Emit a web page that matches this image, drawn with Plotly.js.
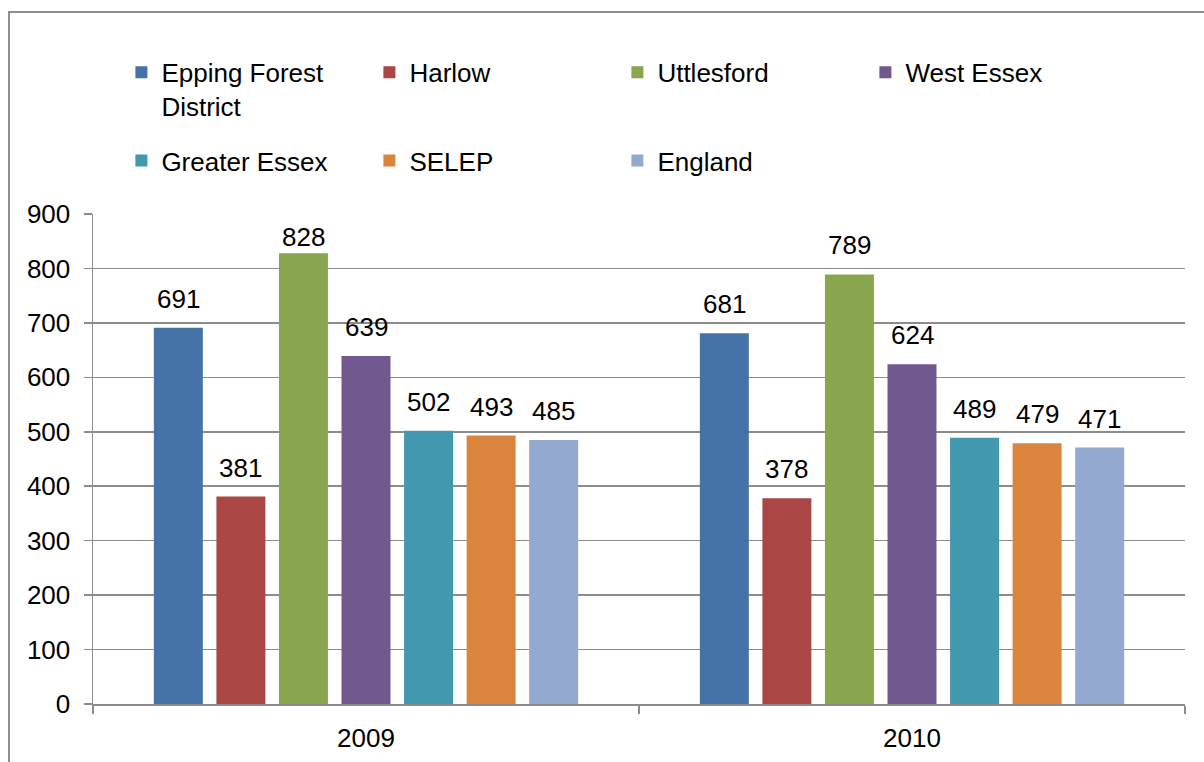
<!DOCTYPE html>
<html>
<head>
<meta charset="utf-8">
<script src="https://cdn.plot.ly/plotly-3.0.1.min.js"></script>
<style>
  html, body { margin: 0; padding: 0; background: #ffffff; overflow: hidden; }
  #frame { position: absolute; left: 8px; top: 11px; width: 1400px; height: 1000px; border: 2px solid #8e8e8e; box-sizing: border-box; }
  #chart { position: absolute; left: 0; top: 0; width: 1204px; height: 762px; }
</style>
</head>
<body>
<div id="frame"></div>
<div id="chart"></div>
<script>
const years = ['2009', '2010'];
const seriesNames = ['Epping Forest<br>District', 'Harlow', 'Uttlesford', 'West Essex', 'Greater Essex', 'SELEP', 'England'];
const eppingForest = [691, 681];
const harlow = [381, 378];
const uttlesford = [828, 789];
const westEssex = [639, 624];
const greaterEssex = [502, 489];
const selep = [493, 479];
const england = [485, 471];
const colors = ['#4572A7', '#AA4643', '#89A54E', '#71588F', '#4198AF', '#DB843D', '#93A9CF'];

const allValues = [eppingForest, harlow, uttlesford, westEssex, greaterEssex, selep, england];
const FONT = 'Liberation Sans, Arial, sans-serif';
const FS = 26;

const W = 1204, H = 762;
const margin = { l: 93, r: 19, t: 214, b: 58, pad: 0 };
const yMax = 900;
const bargap = 0.198, bargroupgap = 0.217;
const plotW = W - margin.l - margin.r;
const plotH = H - margin.t - margin.b;
const nSeries = allValues.length;
const slot = plotW / years.length * (1 - bargap) / nSeries;

// Data labels sit above bars; like Excel, keep them inside the plot area
const LABEL_GAP = 12;      // normal lift above the bar top (px)
const LABEL_CLEAR = 40;    // room the label needs below the plot top (px)
function labelShift(v) {
  const distFromTop = plotH * (1 - v / yMax);
  return Math.min(LABEL_GAP, distFromTop - LABEL_CLEAR);
}

const traces = allValues.map((vals, i) => ({
  type: 'bar',
  name: seriesNames[i],
  x: years,
  y: vals,
  legend: i < 4 ? 'legend' : 'legend2',
  marker: { color: colors[i], line: { width: 0 } },
  hoverinfo: 'x+y+name'
}));

const annotations = [];
allValues.forEach((vals, i) => {
  vals.forEach((v, j) => {
    annotations.push({
      x: j, y: v, xref: 'x', yref: 'y',
      text: String(v), showarrow: false,
      xanchor: 'center', yanchor: 'bottom',
      xshift: (i - (nSeries - 1) / 2) * slot,
      yshift: labelShift(v),
      font: { family: FONT, size: FS, color: '#000000' }
    });
  });
});

const legendBase = {
  orientation: 'h',
  x: 0.026,
  xanchor: 'left',
  yanchor: 'top',
  entrywidth: 203,
  entrywidthmode: 'pixels',
  valign: 'top',
  font: { family: FONT, size: FS, color: '#000000' },
  traceorder: 'normal',
  bgcolor: 'rgba(0,0,0,0)'
};

function axisCommon() {
  return {
    showline: true,
    linecolor: '#8c8c8c',
    linewidth: 1.5,
    ticks: 'outside',
    ticklen: 8,
    tickwidth: 1.5,
    tickcolor: '#8c8c8c',
    tickfont: { family: FONT, size: FS, color: '#000000' }
  };
}

const layout = {
  width: W,
  height: H,
  margin: margin,
  paper_bgcolor: 'rgba(0,0,0,0)',
  plot_bgcolor: 'rgba(0,0,0,0)',
  font: { family: FONT, size: FS, color: '#000000' },
  barmode: 'group',
  bargap: bargap,
  bargroupgap: bargroupgap,
  showlegend: true,
  legend: Object.assign({}, legendBase, { y: 1.337 }),
  legend2: Object.assign({}, legendBase, { y: 1.157 }),
  annotations: annotations,
  xaxis: Object.assign(axisCommon(), {
    type: 'category',
    range: [-0.5, years.length - 0.5],
    tickson: 'boundaries',
    ticklabelstandoff: 10,
    showgrid: false
  }),
  yaxis: Object.assign(axisCommon(), {
    range: [0, yMax],
    dtick: 100,
    tick0: 0,
    ticklabelstandoff: 8,
    showgrid: true,
    gridcolor: '#8c8c8c',
    gridwidth: 1.5,
    zeroline: false
  })
};

Plotly.newPlot('chart', traces, layout, { displayModeBar: false, staticPlot: true });
</script>
</body>
</html>
